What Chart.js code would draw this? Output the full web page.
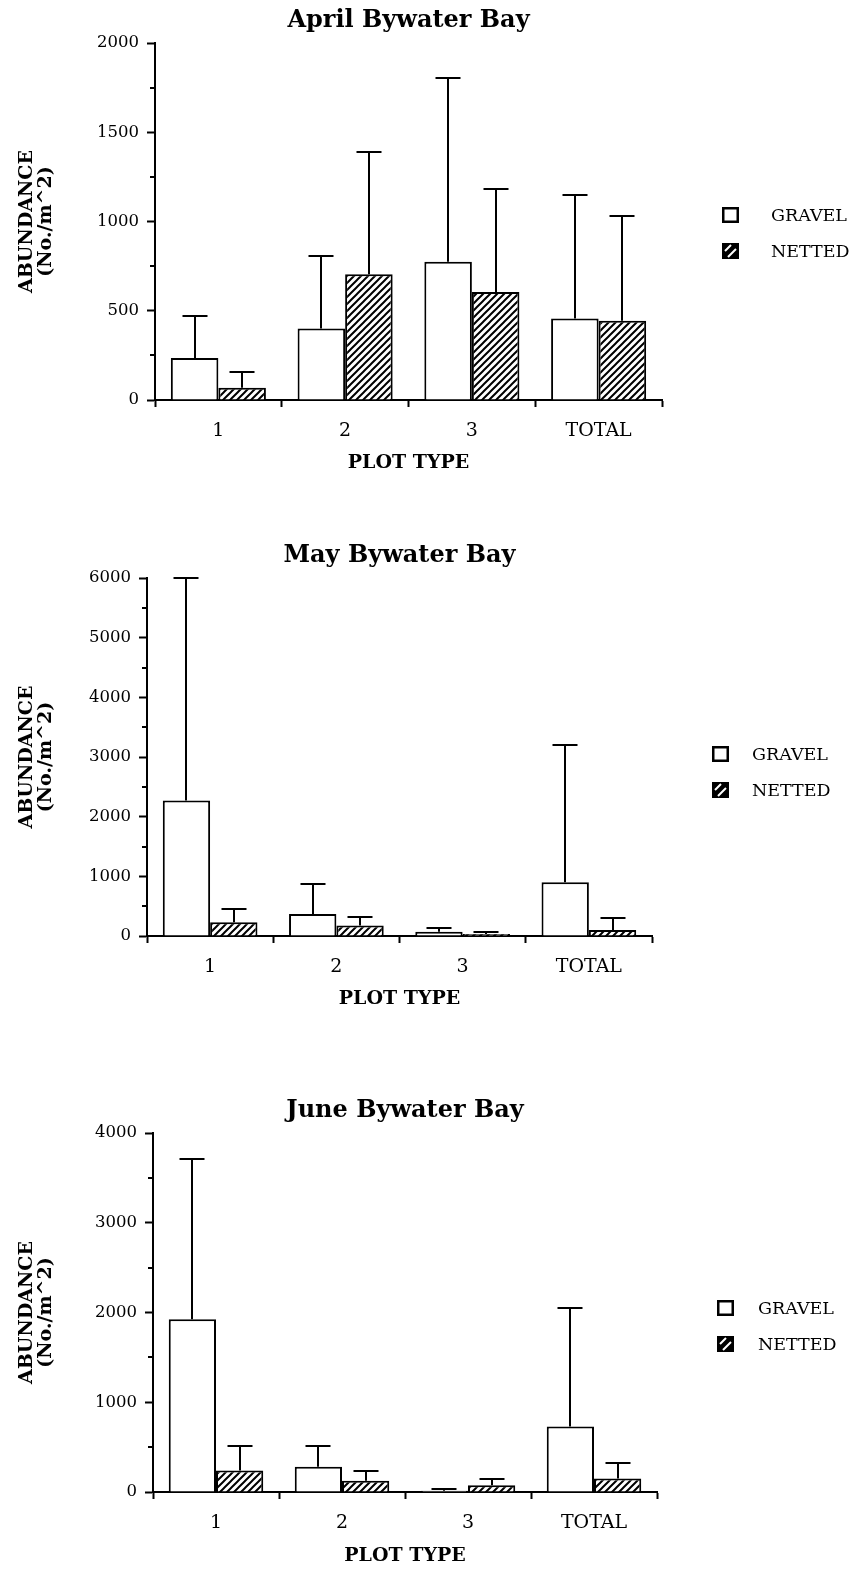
<!DOCTYPE html>
<html><head><meta charset="utf-8">
<script src="https://cdn.jsdelivr.net/npm/chart.js@4.4.1/dist/chart.umd.min.js"></script>
<style>
html,body{margin:0;padding:0;background:#fff;}
body{width:855px;height:1569px;position:relative;overflow:hidden;}
canvas{position:absolute;left:0;}
</style></head><body>
<canvas id="c1" width="855" height="490" style="top:0px"></canvas>
<canvas id="c2" width="855" height="500" style="top:520px"></canvas>
<canvas id="c3" width="855" height="494" style="top:1075px"></canvas>
<script>
// ---- data ----
const categories = ['1', '2', '3', 'TOTAL'];
const seriesNames = ['GRAVEL', 'NETTED'];
const titles = ['April Bywater Bay', 'May Bywater Bay', 'June Bywater Bay'];
const yAxisTitle = ['ABUNDANCE', '(No./m^2)'];
const xAxisTitle = 'PLOT TYPE';

const aprilGravel   = [235, 400, 775, 457];
const aprilGravelSD = [235, 405, 1030, 693];
const aprilNetted   = [68, 705, 605, 444];
const aprilNettedSD = [87, 685, 575, 586];

const mayGravel   = [2270, 370, 70, 900];
const mayGravelSD = [3730, 500, 70, 2300];
const mayNetted   = [230, 175, 35, 100];
const mayNettedSD = [225, 150, 30, 200];

const juneGravel   = [1925, 280, 15, 730];
const juneGravelSD = [1790, 235, 15, 1320];
const juneNetted   = [240, 125, 75, 150];
const juneNettedSD = [275, 105, 65, 170];

const yMax  = [2000, 6000, 4000];
const yStep = [500, 1000, 1000];

// ---- styling ----
const SERIF = "'DejaVu Serif', 'Liberation Serif', serif";
Chart.defaults.color = '#000';

function makeHatch(size, lw) {
  const c = document.createElement('canvas');
  c.width = size; c.height = size;
  const g = c.getContext('2d');
  g.fillStyle = '#fff'; g.fillRect(0, 0, size, size);
  g.strokeStyle = '#000'; g.lineWidth = lw; g.lineCap = 'square';
  g.beginPath();
  g.moveTo(0, size); g.lineTo(size, 0);
  g.moveTo(-size, size); g.lineTo(size, -size);
  g.moveTo(0, 2 * size); g.lineTo(2 * size, 0);
  g.stroke();
  return g.createPattern(c, 'repeat');
}
const hatch = makeHatch(7, 2);

const errorBars = {
  id: 'errorBars',
  afterDatasetsDraw(chart, args, opts) {
    const ctx = chart.ctx, y = chart.scales.y;
    chart.data.datasets.forEach((ds, di) => {
      const meta = chart.getDatasetMeta(di);
      meta.data.forEach((bar, i) => {
        const sd = ds.sd[i];
        if (!sd) return;
        const top = Math.round(y.getPixelForValue(ds.data[i] + sd));
        const x = Math.round(bar.x);
        ctx.save();
        ctx.strokeStyle = '#000'; ctx.lineWidth = 2;
        ctx.beginPath();
        ctx.moveTo(x, bar.y); ctx.lineTo(x, top);
        ctx.moveTo(x - opts.cap / 2, top); ctx.lineTo(x + opts.cap / 2, top);
        ctx.stroke();
        ctx.restore();
      });
    });
  }
};

const minorTicks = {
  id: 'minorTicks',
  afterDraw(chart, args, opts) {
    const y = chart.scales.y, ctx = chart.ctx, step = opts.step;
    ctx.save(); ctx.strokeStyle = '#000'; ctx.lineWidth = 2;
    for (let v = step / 2; v < y.max; v += step) {
      const py = Math.round(y.getPixelForValue(v));
      ctx.beginPath(); ctx.moveTo(y.right - opts.len, py); ctx.lineTo(y.right, py); ctx.stroke();
    }
    ctx.restore();
  }
};

const boxLegend = {
  id: 'boxLegend',
  afterDraw(chart, args, opts) {
    const ctx = chart.ctx, a = chart.chartArea;
    chart.data.datasets.forEach((ds, i) => {
      const bx = a.right + opts.boxX, cy = a.top + opts.y + i * opts.gap;
      const w = 17, h = 16, by = cy - h / 2;
      ctx.save();
      if (i === 0) {
        ctx.fillStyle = '#fff'; ctx.fillRect(bx, by, w, h);
        ctx.strokeStyle = '#000'; ctx.lineWidth = 2.5;
        ctx.strokeRect(bx + 1.25, by + 1.25, w - 2.5, h - 2.5);
      } else {
        ctx.fillStyle = '#000'; ctx.fillRect(bx, by, w, h);
        ctx.strokeStyle = '#fff'; ctx.lineWidth = 2;
        ctx.beginPath();
        ctx.moveTo(bx + 3, by + 8); ctx.lineTo(bx + 9, by + 2);
        ctx.moveTo(bx + 6, by + 14); ctx.lineTo(bx + 14, by + 6);
        ctx.stroke();
      }
      ctx.fillStyle = '#000';
      ctx.font = '17.5px ' + SERIF;
      ctx.textBaseline = 'middle'; ctx.textAlign = 'left';
      ctx.fillText(ds.label, a.right + opts.textX, cy + 1);
      ctx.restore();
    });
  }
};

function makeChart(id, o) {
  return new Chart(document.getElementById(id), {
    type: 'bar',
    data: {
      labels: categories,
      datasets: [
        { label: seriesNames[0], data: o.gravel, sd: o.gravelSD, backgroundColor: '#fff', borderColor: '#000', borderWidth: 2 },
        { label: seriesNames[1], data: o.netted, sd: o.nettedSD, backgroundColor: hatch, borderColor: '#000', borderWidth: 2 }
      ]
    },
    options: {
      responsive: false, animation: false, events: [],
      layout: { padding: { left: 0, right: o.padRight, top: 0, bottom: 0 } },
      datasets: { bar: { categoryPercentage: 0.75, barPercentage: 1 } },
      plugins: {
        legend: { display: false },
        tooltip: { enabled: false },
        title: {
          display: true, text: o.title, fullSize: false, color: '#000',
          font: { family: SERIF, size: 24, weight: 'bold', lineHeight: 1.2 },
          padding: { top: o.titleTop, bottom: o.titleBottom }
        },
        minorTicks: { step: o.step, len: 5 },
        errorBars: { cap: 25 },
        boxLegend: { boxX: 60, textX: o.textX, y: o.legendY, gap: 36 }
      },
      scales: {
        x: {
          grid: { display: true, drawOnChartArea: false, drawTicks: true, tickLength: 7, tickWidth: 2, tickColor: '#000', offset: true },
          border: { display: true, color: '#000', width: 2 },
          ticks: { font: { family: SERIF, size: 19, lineHeight: 1.2 }, color: '#000', padding: 12.6, maxRotation: 0 },
          title: {
            display: true, text: xAxisTitle, color: '#000',
            font: { family: SERIF, size: 19, weight: 'bold', lineHeight: 1.2 },
            padding: { top: 0, bottom: o.xTitleBottom }
          },
          afterFit(s) { s.height = o.xHeight; }
        },
        y: {
          min: 0, max: o.max,
          grid: { display: true, drawOnChartArea: false, drawTicks: true, tickLength: 8, tickWidth: 2, tickColor: '#000' },
          border: { display: true, color: '#000', width: 2 },
          ticks: { stepSize: o.step, font: { family: SERIF, size: 16.5 }, color: '#000', padding: 8, callback: (v) => String(v) },
          title: {
            display: true, text: yAxisTitle, color: '#000',
            font: { family: SERIF, size: 19, weight: 'bold', lineHeight: 1.0 },
            padding: { top: 17.5, bottom: 0 }
          },
          afterFit(s) { s.width = o.yWidth; }
        }
      }
    },
    plugins: [errorBars, minorTicks, boxLegend]
  });
}

makeChart('c1', {
  title: titles[0], gravel: aprilGravel, gravelSD: aprilGravelSD, netted: aprilNetted, nettedSD: aprilNettedSD,
  max: yMax[0], step: yStep[0], yWidth: 155, padRight: 193, xHeight: 90, xTitleBottom: 15.6,
  titleTop: 6.6, titleBottom: 7.6, textX: 109, legendY: 172
});
makeChart('c2', {
  title: titles[1], gravel: mayGravel, gravelSD: mayGravelSD, netted: mayNetted, nettedSD: mayNettedSD,
  max: yMax[1], step: yStep[1], yWidth: 147, padRight: 203, xHeight: 84, xTitleBottom: 9.6,
  titleTop: 21.6, titleBottom: 7.6, textX: 100, legendY: 176
});
makeChart('c3', {
  title: titles[2], gravel: juneGravel, gravelSD: juneGravelSD, netted: juneNetted, nettedSD: juneNettedSD,
  max: yMax[2], step: yStep[2], yWidth: 153, padRight: 198, xHeight: 77, xTitleBottom: 1.6,
  titleTop: 21.6, titleBottom: 7.6, textX: 101, legendY: 175
});
</script>
</body></html>
